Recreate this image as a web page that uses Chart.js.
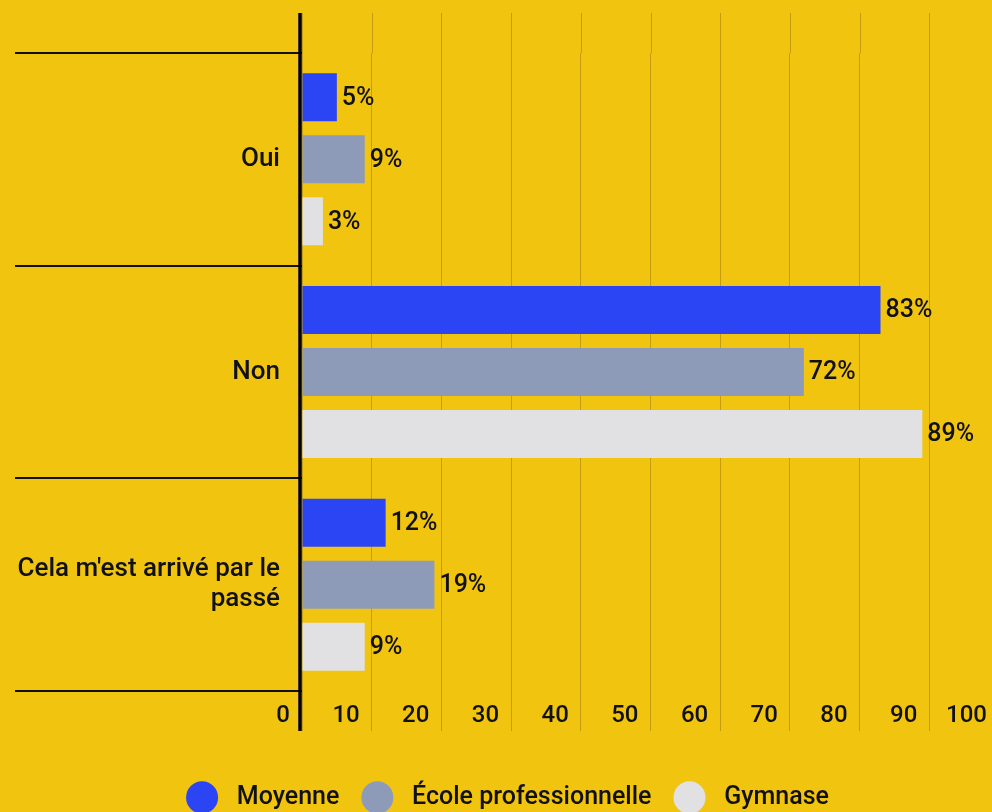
<!DOCTYPE html>
<html lang="fr">
<head>
<meta charset="utf-8">
<title>Réponses par type d'école</title>
<script src="https://cdn.jsdelivr.net/npm/chart.js@4"></script>
<style>
    html, body { margin: 0; padding: 0; background: #f1c40f; overflow: hidden; }
    #wrap { width: 1015px; height: 820px; position: relative; }
</style>
</head>
<body>
<div id="wrap"><canvas id="chart"></canvas></div>
<script>
// categories and values (percent)
const categories = ['Oui', 'Non', ['Cela m\'est arrivé par le', 'passé']];
const seriesNames = ['Moyenne', 'École professionnelle', 'Gymnase'];
const moyenne = [5, 83, 12];
const ecolePro = [9, 72, 19];
const gymnase = [3, 89, 9];
const xTicks = [0, 10, 20, 30, 40, 50, 60, 70, 80, 90, 100];

const colors = ['#2b45f5', '#8d9bb8', '#e1e1e3'];
const gridColor = '#c49c0c';
const textColor = '#111111';

// draws the "5%" labels, the thick y axis line and the grid above the plot
const extrasPlugin = {
    id: 'extras',
    beforeDatasetsDraw(chart) {
        const ctx = chart.ctx;
        const area = chart.chartArea;
        const x = chart.scales.x;
        ctx.save();
        ctx.strokeStyle = gridColor;
        ctx.lineWidth = 1;
        xTicks.forEach(function (v) {
            const px = Math.round(x.getPixelForValue(v)) + 0.5;
            ctx.beginPath();
            ctx.moveTo(px, area.top - 40);
            ctx.lineTo(px, area.top);
            ctx.stroke();
        });
        ctx.restore();
    },
    afterDatasetsDraw(chart) {
        const ctx = chart.ctx;
        const area = chart.chartArea;
        ctx.save();
        ctx.font = '500 25px Roboto';
        ctx.fillStyle = textColor;
        ctx.textAlign = 'left';
        ctx.textBaseline = 'middle';
        chart.data.datasets.forEach(function (ds, i) {
            chart.getDatasetMeta(i).data.forEach(function (bar, j) {
                ctx.fillText(ds.data[j] + '%', bar.x + 5, bar.y + 1);
            });
        });
        // y axis line
        const x0 = chart.scales.x.getPixelForValue(0) - 2;
        ctx.strokeStyle = '#000';
        ctx.lineWidth = 3.5;
        ctx.beginPath();
        ctx.moveTo(x0, area.top - 40);
        ctx.lineTo(x0, area.bottom + 40);
        ctx.stroke();
        ctx.restore();
    }
};

const ctx = document.getElementById('chart').getContext('2d');
new Chart(ctx, {
    type: 'bar',
    data: {
        labels: categories,
        datasets: [
            { label: seriesNames[0], data: moyenne, backgroundColor: colors[0] },
            { label: seriesNames[1], data: ecolePro, backgroundColor: colors[1] },
            { label: seriesNames[2], data: gymnase, backgroundColor: colors[2] }
        ]
    },
    options: {
        indexAxis: 'y',
        responsive: true,
        maintainAspectRatio: false,
        animation: false,
        categoryPercentage: 0.875,
        barPercentage: 0.774,
        layout: {
            padding: { top: 53, right: 0, bottom: 0, left: 0 }
        },
        scales: {
            x: {
                min: 0,
                max: 100,
                afterBuildTicks: function (scale) {
                    scale.ticks = xTicks.map(v => ({ value: v }));
                },
                afterFit: function (scale) {
                    scale.height = 72;
                },
                border: { display: false },
                grid: {
                    color: gridColor,
                    lineWidth: 1,
                    tickLength: 40,
                    tickColor: gridColor
                },
                ticks: {
                    align: 'end',
                    labelOffset: -12,
                    padding: -29,
                    color: textColor,
                    font: { family: 'Roboto', size: 24, weight: '500' }
                }
            },
            y: {
                afterFit: function (scale) {
                    scale.width = 302;
                },
                border: { display: false },
                grid: {
                    offset: true,
                    drawOnChartArea: false,
                    tickLength: 287,
                    color: '#111',
                    lineWidth: 2
                },
                ticks: {
                    padding: -265,
                    color: textColor,
                    font: { family: 'Roboto', size: 26, weight: '500', lineHeight: 1.16 }
                }
            },
            // empty box on the right so the plot stops at 100 while the legend stays centred
            spacer: {
                type: 'linear',
                position: 'right',
                afterFit: function (scale) {
                    scale.width = 16;
                },
                border: { display: false },
                grid: { display: false },
                ticks: { display: false }
            }
        },
        plugins: {
            legend: {
                position: 'bottom',
                labels: {
                    usePointStyle: true,
                    pointStyle: 'circle',
                    pointStyleWidth: 32,
                    boxHeight: 23,
                    padding: 22,
                    color: textColor,
                    font: { family: 'Roboto', size: 25, weight: '500' },
                    generateLabels: function (chart) {
                        const items = Chart.defaults.plugins.legend.labels.generateLabels(chart);
                        items.forEach(function (item) { item.text = ' ' + item.text; });
                        return items;
                    }
                }
            },
            tooltip: { enabled: false }
        }
    },
    plugins: [extrasPlugin]
});
</script>
</body>
</html>
